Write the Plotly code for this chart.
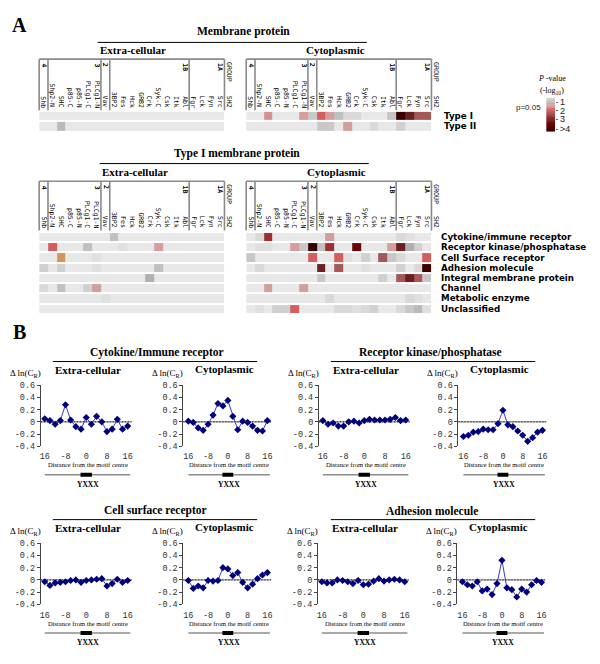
import plotly.graph_objects as go

W, H = 600, 664


def px(x):
    return x / W


def py(y):
    return 1 - y / H


# ---------------- DATA ----------------
sh2_domains = ["Shb", "Shp2-N", "SHC", "p85-C", "p85-N", "PLCg1-C", "PLCg1-N", "Vav",
               "3BP2", "Fes", "Hck", "GRB2", "Crk", "Syk-C", "Csk", "Itk", "Abl",
               "Fgr", "Lck", "Fyn", "Src"]
group_labels = ["4", "3", "2", "1B", "1A"]
group_label_cols = [0, 6, 7, 16, 20]
group_boundaries = [0, 1, 7, 8, 17, 21]

membrane_rows = ["Type I", "Type II"]
membrane_ext = [
    [0, 0, 0, 0, 0, 0, 0, 0, 0, 0, 0, 0, 0, 0, 0, 0, 0, 0, 0, 0, 0],
    [0, 0, 1.1, 0, 0, 0, 0, 0, 0, 0, 0, 0, 0, 0, 0, 0, 0, 0, 0, 0, 0],
]
membrane_cyto = [
    [0, 0, 1.6, 0, 0, 0, 1.5, 0.85, 2.0, 1.5, 1.0, 0.5, 0.5, 0, 0, 0, 0.9, 4.5, 3.3, 2.4, 2.4],
    [0, 0, 0, 0, 0, 0, 0, 0, 0.85, 0.85, 0, 1.5, 0, 0, 0.5, 0, 0, 0.7, 0, 0, 0],
]

type1_rows = ["Cytokine/immune receptor", "Receptor kinase/phosphatase", "Cell Surface receptor",
              "Adhesion molecule", "Integral membrane protein", "Channel",
              "Metabolic enzyme", "Unclassified"]
type1_ext = [
    [0, 0, 0, 0, 0, 0, 0, 0, 1.0, 0, 0, 0, 0, 0, 0, 0, 0, 0, 0, 0, 0],
    [0, 2.0, 0, 0, 0, 1.0, 0, 0, 0, 0.3, 0, 0, 0, 1.5, 0, 0, 0, 0, 0, 0, 0],
    [0, 0, 0, 0, 0, 0, 0.3, 0, 0, 0, 0, 0, 0, 0, 0, 0, 0, 0, 0, 0, 0],
    [0.7, 0, 0.7, 0, 0, 0, 0.3, 0, 0, 0, 0, 0, 0, 1.0, 0, 0, 0, 0, 0, 0, 0],
    [0, 0, 0, 0, 0, 0, 0, 0, 0, 0, 0, 0, 1.25, 0, 0, 0, 0, 0, 0, 0, 0],
    [0.5, 0, 1.0, 0, 0, 0.7, 1.5, 0, 0, 0, 0, 0, 0, 0, 0, 0, 0, 0, 0, 0, 0],
    [0, 0, 0, 0, 0, 0, 0, 0.3, 0, 0, 0, 0, 0, 0, 0, 0, 0, 0, 0, 0, 0],
    [0, 0, 0, 0, 0, 0, 0, 0, 0, 0, 0, 0, 0, 0, 0, 0, 0, 0, 0, 0, 0],
]
type1_cyto = [
    [0, 0.5, 2.8, 0, 0, 0, 0, 0, 0, 1.5, 0, 0, 0, 0, 0, 0, 0, 0.5, 0.3, 0, 0],
    [0, 0.3, 0.3, 0, 0, 1.5, 0.85, 4.5, 1.0, 2.8, 0, 0, 3.6, 0, 0, 0, 1.5, 3.3, 1.25, 0.7, 0],
    [0.85, 0, 0, 0, 0, 0, 0, 2.0, 0, 0, 2.0, 0.3, 0, 0.7, 0, 2.4, 0.85, 0.5, 0, 0, 2.0],
    [0, 0.5, 0, 0, 0, 0, 0, 0, 3.3, 0, 2.4, 0, 0, 0.3, 0, 0, 0, 0.7, 0, 0.5, 4.5],
    [0, 0, 0, 0, 0, 0, 0, 0, 0.85, 0, 0, 0, 0, 0, 0, 0.7, 0, 2.4, 3.3, 2.4, 0.85],
    [0, 0, 1.5, 0, 0, 0, 1.5, 0, 0, 0, 0, 0, 0, 0, 0, 0, 0, 0, 0, 0, 0],
    [0, 0, 0, 0, 0, 0, 0, 0, 0, 0.5, 0, 0, 0, 0, 0, 0, 0, 0, 0.5, 0.3, 0],
    [0, 0.3, 0, 0.7, 0.7, 2.0, 0, 0, 0, 0, 0.5, 0.5, 0.3, 0.5, 0.7, 0, 0, 0.5, 0.85, 1.1, 0.3],
]
orange_cells = [("Cell Surface receptor", "SHC")]

colorbar_levels = [0.5 + 0.1 * i for i in range(41)]
colorbar_tickvals = [1, 2, 3, 4.2]
colorbar_ticktext = ["1", "2", "3", ">4"]

dist = [-16, -14, -12, -10, -8, -6, -4, -2, 0, 2, 4, 6, 8, 10, 12, 14, 16]
cytokine_ext = [0.05, 0.02, -0.04, 0.02, 0.28, 0.03, -0.08, -0.12, 0.07, -0.04, 0.09, 0.0, -0.16, -0.12, 0.04, -0.12, -0.07]
cytokine_cyto = [0.01, -0.01, -0.10, -0.14, -0.04, 0.11, 0.30, 0.26, 0.35, 0.09, -0.13, 0.01, -0.01, -0.07, -0.14, -0.15, 0.02]
receptor_ext = [0.02, -0.04, -0.02, -0.07, -0.07, 0.0, 0.01, -0.02, 0.02, 0.04, 0.03, 0.03, 0.03, 0.04, 0.07, 0.02, 0.03]
receptor_cyto = [-0.24, -0.22, -0.17, -0.16, -0.12, -0.13, -0.13, -0.03, 0.19, -0.05, -0.08, -0.15, -0.22, -0.32, -0.26, -0.17, -0.14]
cell_ext = [-0.03, -0.09, -0.05, -0.04, -0.03, -0.01, 0.0, -0.04, -0.01, 0.0, 0.01, 0.02, -0.10, -0.06, 0.01, -0.04, -0.01]
cell_cyto = [-0.01, -0.14, -0.10, -0.13, -0.01, -0.02, -0.01, 0.20, 0.18, 0.07, 0.12, -0.04, -0.13, -0.07, 0.02, 0.08, 0.12]
adhesion_ext = [-0.03, -0.05, -0.05, 0.0, -0.01, -0.03, -0.06, -0.01, -0.08, -0.07, -0.02, 0.02, -0.02, 0.0, 0.01, 0.0, -0.03]
adhesion_cyto = [-0.03, -0.08, -0.10, -0.03, -0.18, -0.15, -0.24, -0.06, 0.32, -0.13, -0.16, -0.28, -0.15, -0.20, -0.08, -0.01, -0.04]

y_tickvals = [-0.4, -0.2, 0, 0.2, 0.4, 0.6]
y_ticktext = ["-0.4", "-0.2", "0", "0.2", "0.4", "0.6"]
x_tickvals = [-16, -8, 0, 8, 16]
x_ticktext = ["16", "-8", "0", "8", "16"]

panel_titles = ["Cytokine/Immune receptor", "Receptor kinase/phosphatase",
                "Cell surface receptor", "Adhesion molecule"]

# ---------------- STYLE ----------------
SERIF = "Liberation Serif"
MONO = "Liberation Mono"
SANSB = "DejaVu Sans"
GRID_LINE = "#8a8a8a"

colorscale = [
    [0.0, "#e8e8e8"], [0.3 / 4.5, "#e0e0e0"], [0.5 / 4.5, "#d9d9d9"],
    [0.7 / 4.5, "#d0d0d0"], [0.85 / 4.5, "#c8c8c8"], [1.0 / 4.5, "#c0c0c0"],
    [1.25 / 4.5, "#b0b0b0"], [1.3 / 4.5, "#dcaaaa"], [1.5 / 4.5, "#d79c9c"],
    [2.0 / 4.5, "#d45e5e"], [2.4 / 4.5, "#a45858"], [2.8 / 4.5, "#a02e2e"],
    [3.3 / 4.5, "#6a2020"], [3.6 / 4.5, "#6c0606"], [1.0, "#380000"],
]

fig = go.Figure()
layout = dict(
    width=W, height=H, margin=dict(l=0, r=0, t=0, b=0),
    paper_bgcolor="white", plot_bgcolor="white", showlegend=False,
    coloraxis=dict(cmin=0, cmax=4.5, colorscale=colorscale, showscale=False),
    font=dict(family=SERIF, color="black"),
)
annotations = []
shapes = []


def sfx(i):
    return "" if i == 1 else str(i)


def set_axes(i, xd, yd, xkw, ykw):
    layout["xaxis" + sfx(i)] = dict(domain=[px(xd[0]), px(xd[1])], anchor="y" + sfx(i), **xkw)
    layout["yaxis" + sfx(i)] = dict(domain=[py(yd[1]), py(yd[0])], anchor="x" + sfx(i), **ykw)


def text(t, x, y, size, xanchor="center", yanchor="middle", family=SERIF, angle=0,
         xref="paper", yref="paper", color="black"):
    annotations.append(dict(text=t, x=x, y=y, xref=xref, yref=yref, showarrow=False,
                            xanchor=xanchor, yanchor=yanchor, textangle=angle,
                            font=dict(family=family, size=size, color=color)))


def hline(x0, x1, y, color="black", width=1, xref="paper", yref="paper", dash="solid", layer="above"):
    shapes.append(dict(type="line", x0=x0, x1=x1, y0=y, y1=y, xref=xref, yref=yref,
                       line=dict(color=color, width=width, dash=dash), layer=layer))


def vline(x, y0, y1, color=GRID_LINE, width=1.6):
    shapes.append(dict(type="line", x0=x, x1=x, y0=y0, y1=y1, xref="paper", yref="paper",
                       line=dict(color=color, width=width)))


# ---------------- PANEL A: heatmaps ----------------
HM_W = 185.9
heatmaps = [
    (1, 38.3, (108.5, 129.5), membrane_ext, membrane_rows, False, (56, 108)),
    (2, 246.0, (108.5, 129.5), membrane_cyto, membrane_rows, True, (56, 108)),
    (3, 38.3, (231.5, 314.5), type1_ext, type1_rows, False, (180, 230)),
    (4, 246.0, (231.5, 314.5), type1_cyto, type1_rows, True, (180, 230)),
]
ncol = len(sh2_domains)
cw = HM_W / ncol
for idx, x0, (yt, yb), z, rows, label_rows, (bt, bb) in heatmaps:
    n = len(rows)
    set_axes(idx, (x0, x0 + HM_W), (yt, yb),
             dict(range=[-0.5, ncol - 0.5], visible=False, fixedrange=True),
             dict(range=[n - 0.5, -0.5], visible=False, fixedrange=True))
    fig.add_trace(go.Heatmap(z=z, x=list(range(ncol)), y=list(range(n)), coloraxis="coloraxis",
                             ygap=2, hoverinfo="skip", xaxis="x" + sfx(idx), yaxis="y" + sfx(idx)))
    if idx == 3:
        oz = [[None] * ncol for _ in range(n)]
        for rname, cname in orange_cells:
            oz[rows.index(rname)][sh2_domains.index(cname)] = 1
        fig.add_trace(go.Heatmap(z=oz, x=list(range(ncol)), y=list(range(n)),
                                 colorscale=[[0, "#d4955a"], [1, "#d4955a"]], showscale=False,
                                 ygap=2, hoverinfo="skip", xaxis="x" + sfx(idx), yaxis="y" + sfx(idx)))
    hline(px(x0), px(x0 + HM_W), py(bt), color=GRID_LINE, width=1.6)
    for k in group_boundaries:
        vline(px(x0 + k * cw), py(bt), py(bb))
    for ci, name in enumerate(sh2_domains):
        text(name, ci, py(bb - 0.5), 6.5, yanchor="bottom", family="DejaVu Sans Mono",
             angle=90, xref="x" + sfx(idx), color="#000")
    for gl, gc in zip(group_labels, group_label_cols):
        text("<b>" + gl + "</b>", gc, py(bt + 2), 6.5, yanchor="top", family="DejaVu Sans Mono",
             angle=90, xref="x" + sfx(idx), color="#000")
    text("GROUP", px(x0 + HM_W + 4.6), py(bt + 1), 6.5, yanchor="top", family="DejaVu Sans Mono",
         angle=90, color="#000")
    text("SH2", px(x0 + HM_W + 4.6), py(bb - 0.5), 6.5, yanchor="bottom", family="DejaVu Sans Mono",
         angle=90, color="#000")
    if label_rows:
        for ri, rname in enumerate(rows):
            text("<b>" + rname + "</b>", px(442 if n == 2 else 439), ri, 8.7, xanchor="left",
                 family=SANSB, yref="y" + sfx(idx))

# colour legend
set_axes(5, (547, 556), (95, 130),
         dict(range=[-0.5, 0.5], visible=False, fixedrange=True),
         dict(range=[4.55, 0.45], side="right", showline=False, showgrid=False, zeroline=False,
              tickvals=colorbar_tickvals, ticktext=colorbar_ticktext, ticks="outside",
              ticklen=2, tickcolor="#666", tickfont=dict(family="Liberation Sans", size=9, color="#222"),
              fixedrange=True))
fig.add_trace(go.Heatmap(z=[[v] for v in colorbar_levels], x=[0], y=colorbar_levels,
                         coloraxis="coloraxis", hoverinfo="skip", xaxis="x5", yaxis="y5"))
text("<i>P</i> -value", px(553), py(76), 8)
text("(-log<sub>10</sub>)", px(553), py(88), 8)
text("p=0.05", px(544), py(105), 8, xanchor="right", family="Liberation Sans", color="#222")

# Section A headings
text("<b>A</b>", px(19), py(21), 20)
text("<b>Membrane protein</b>", px(243), py(28), 11.5)
hline(px(97), px(367), py(39))
text("<b>Extra-cellular</b>", px(97), py(47), 11, xanchor="left")
text("<b>Cytoplasmic</b>", px(367), py(47), 11, xanchor="right")
text("<b>Type I membrane protein</b>", px(237), py(152), 11.5)
hline(px(99), px(369), py(162))
text("<b>Extra-cellular</b>", px(99), py(170.5), 11, xanchor="left")
text("<b>Cytoplasmic</b>", px(368), py(170.5), 11, xanchor="right")

# ---------------- PANEL B: profiles ----------------
text("<b>B</b>", px(19), py(333), 20)

profiles = [
    (cytokine_ext, 40, 0, "ext"), (cytokine_cyto, 183, 0, "cyto"),
    (receptor_ext, 319, 0, "ext"), (receptor_cyto, 459, 0, "cyto"),
    (cell_ext, 40, 1, "ext"), (cell_cyto, 183, 1, "cyto"),
    (adhesion_ext, 318, 1, "ext"), (adhesion_cyto, 458, 1, "cyto"),
]
row_top = [387.0, 547.5]
row_h = 62.0
row_off = [0, 160.5]

for k, (vals, ya, r, kind) in enumerate(profiles):
    i = 6 + k
    if kind == "ext":
        wdt, xr = 91, [-17.5, 17.5]
    else:
        wdt, xr = 88, [-18, 17.5]
    top = row_top[r]
    set_axes(i, (ya, ya + wdt), (top, top + row_h),
             dict(range=xr, showgrid=False, zeroline=False, showline=False,
                  tickvals=x_tickvals, ticktext=x_ticktext, ticks="outside", ticklen=2,
                  tickcolor="rgba(0,0,0,0)", tickfont=dict(family=MONO, size=8.5, color="#333"),
                  fixedrange=True),
             dict(range=[-0.4, 0.6], showgrid=False, zeroline=False, showline=True,
                  linecolor="#444", linewidth=1,
                  tickvals=y_tickvals, ticktext=y_ticktext, ticks="outside", ticklen=3,
                  tickcolor="#444", tickfont=dict(family=MONO, size=8.5, color="#333"),
                  fixedrange=True))
    xa = "x" + sfx(i)
    yax = "y" + sfx(i)
    shapes.append(dict(type="line", xref=xa + " domain", yref=yax, x0=0, x1=1, y0=0, y1=0,
                       line=dict(color="#8c8c8c", width=1.2), layer="below"))
    shapes.append(dict(type="line", xref=xa + " domain", yref=yax, x0=0, x1=1, y0=0, y1=0,
                       line=dict(color="black", width=1, dash="1px,2px"), layer="below"))
    fig.add_trace(go.Scatter(x=dist, y=vals, mode="lines+markers", xaxis=xa, yaxis=yax,
                             line=dict(color="#3a3ad0", width=1),
                             marker=dict(symbol="diamond", size=5.5, color="#00007a"),
                             hoverinfo="skip"))
    off = row_off[r]
    text("\u0394 ln(C<sub>R</sub>)", px(ya + 2), py(375 + off), 9, xanchor="right")
    text("Distance from the motif centre", 0.5, py(468 + off), 6.5, xref=xa)
    hline(-16, 17, py(478 + off), color="#8c8c8c", width=1.5, xref=xa)
    hline(-2.2, 2.2, py(478 + off), color="black", width=4, xref=xa)
    text("<b>YXXX</b>", 0.5, py(487.5 + off), 7.5, xref=xa)
    if kind == "ext":
        text("<b>Extra-cellular</b>", px(ya + 12), py(372 + off), 11, xanchor="left")
    else:
        text("<b>Cytoplasmic</b>", px(ya + 73), py(371 + off), 11, xanchor="right")

for t, (cx, cy, lx0, lx1) in zip(panel_titles, [(157, 354, 52, 257), (431, 354, 331, 536),
                                                  (155, 514.5, 52, 257), (432, 514.5, 331, 536)]):
    text("<b>" + t + "</b>", px(cx), py(cy), 11.5)
    hline(px(lx0), px(lx1), py(cy + 9))

layout["annotations"] = annotations
layout["shapes"] = shapes
fig.update_layout(**layout)
fig.write_html("out.html", config={"displayModeBar": False},
               post_script="document.body.style.margin='0';document.body.style.padding='0';")
